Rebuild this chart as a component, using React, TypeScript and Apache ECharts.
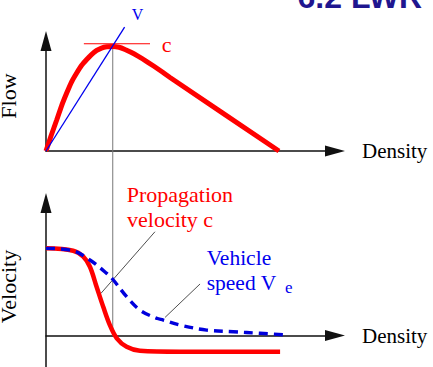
import React, { useEffect, useRef } from "react";
import * as echarts from "echarts";

// Top panel: fundamental diagram (density -> flow)
const flowDensity = [
  0, 1.73, 3.7, 5.36, 7.16, 8.82, 10.62, 12.28, 14.08, 15.74, 17.54, 19.2, 21, 23.18,
  25.26, 27.34, 29.41, 31.83, 34.6, 37.37, 40.14, 42.91, 80.6,
];
const flowValues = [
  0, 13.6, 28.2, 40.9, 52.7, 62.7, 70.9, 77.7, 83.2, 87.7, 91.4, 93.6, 94.7, 95,
  94.3, 92.3, 89.7, 86.2, 81.8, 77, 72, 66.8, 0,
];
// tangent at capacity (c) and secant (V)
const tangentC = [[13.1, 97.5], [36, 97.5]];
const secantV = [[0, 0], [27.2, 112.7]];

// Bottom panel: propagation velocity c and vehicle speed Ve
const cDensity = [0, 9.4, 12.9, 15.2, 17.5, 19.8, 22.1, 24.5, 27.9, 32.5, 46.4, 81];
const cValues = [65.8, 64, 59.5, 51.9, 36.8, 21.7, 7.9, -2.1, -8.5, -11.5, -12.2, -12.2];
const veDensity = [0, 9.4, 15.2, 21, 23.3, 27.9, 32.5, 38.3, 40.6, 46.4, 55.6, 64.8, 74, 83.3];
const veValues = [65.8, 64, 57, 46.9, 41.9, 29.3, 19.2, 13, 11.7, 7.9, 4.1, 2.9, 1.7, 0.4];
const criticalLine = [[23.1, 0], [23.1, 217]];
const leaderC = [[19, 31.8], [37.7, 78.3]];
const leaderVe = [[41.2, 13.7], [53.3, 38.9]];

const SERIF = "'Liberation Serif', 'Times New Roman', serif";

function pairs(xs: number[], ys: number[]) {
  return xs.map((x, i) => [x, ys[i]]);
}

export default function App() {
  const ref = useRef<HTMLDivElement>(null);
  useEffect(() => {
    const chart = echarts.init(ref.current!, null, { renderer: "svg" });
    const axisLine = {
      show: true,
      onZero: true,
      symbol: ["none", "triangle"],
      symbolSize: [11, 20],
      lineStyle: { color: "#111", width: 1.5 },
    };
    const hidden = {
      axisTick: { show: false },
      axisLabel: { show: false },
      splitLine: { show: false },
    };
    const nameStyle = { fontFamily: SERIF, fontSize: 21, color: "#000" };
    chart.setOption({
      animation: false,
      backgroundColor: "#fff",
      grid: [
        { left: 46, top: 41, width: 289, height: 110, outerBoundsMode: "none" },
        { left: 46, top: 203, width: 289, height: 167, outerBoundsMode: "none" },
      ],
      xAxis: [
        {
          type: "value", gridIndex: 0, min: 0, max: 100, ...hidden, axisLine,
          name: "Density", nameLocation: "end", nameGap: 27,
          nameTextStyle: { ...nameStyle, padding: [4, 0, 0, 0] },
        },
        {
          type: "value", gridIndex: 1, min: 0, max: 100, ...hidden, axisLine,
          name: "Density", nameLocation: "end", nameGap: 27,
          nameTextStyle: { ...nameStyle, padding: [5, 0, 0, 0] },
        },
      ],
      yAxis: [
        {
          type: "value", gridIndex: 0, min: 0, max: 100, ...hidden, axisLine,
          name: "Flow", nameLocation: "middle", nameRotate: 90, nameGap: 27,
          nameTextStyle: { ...nameStyle, fontSize: 22 },
        },
        {
          type: "value", gridIndex: 1, min: -26, max: 100, ...hidden, axisLine,
          name: "Velocity", nameLocation: "middle", nameRotate: 90, nameGap: 27,
          nameTextStyle: { ...nameStyle, fontSize: 22 },
        },
      ],
      series: [
        {
          type: "line", xAxisIndex: 1, yAxisIndex: 1, data: criticalLine,
          symbol: "none", clip: false, lineStyle: { color: "#777", width: 1 }, z: 1,
        },
        {
          type: "line", xAxisIndex: 0, yAxisIndex: 0, data: pairs(flowDensity, flowValues),
          symbol: "none", smooth: 0.2, clip: false,
          lineStyle: { color: "#ff0000", width: 5 }, z: 3,
        },
        {
          type: "line", xAxisIndex: 0, yAxisIndex: 0, data: tangentC,
          symbol: "none", clip: false, lineStyle: { color: "#ff0000", width: 1.2 }, z: 4,
        },
        {
          type: "line", xAxisIndex: 0, yAxisIndex: 0, data: secantV,
          symbol: "none", clip: false, lineStyle: { color: "#0000ee", width: 1.3 }, z: 4,
        },
        {
          type: "line", xAxisIndex: 1, yAxisIndex: 1, data: pairs(cDensity, cValues),
          symbol: "none", smooth: 0.35, clip: false,
          lineStyle: { color: "#ff0000", width: 4.5 }, z: 3,
        },
        {
          type: "line", xAxisIndex: 1, yAxisIndex: 1, data: pairs(veDensity, veValues),
          symbol: "none", smooth: 0.35, clip: false,
          lineStyle: { color: "#0000dd", width: 3.4, type: [9, 6] }, z: 4,
        },
        {
          type: "line", xAxisIndex: 1, yAxisIndex: 1, data: leaderC,
          symbol: "none", clip: false, lineStyle: { color: "#222", width: 0.8 }, z: 2,
        },
        {
          type: "line", xAxisIndex: 1, yAxisIndex: 1, data: leaderVe,
          symbol: "none", clip: false, lineStyle: { color: "#222", width: 0.8 }, z: 2,
        },
      ],
      graphic: [
        {
          type: "text", x: 422, y: -3,
          style: {
            text: "6.2 LWR", fill: "#1f168f", align: "right", verticalAlign: "middle",
            font: "bold 32px 'Liberation Sans', Arial, sans-serif",
          },
        },
        {
          type: "text", x: 131.7, y: 14.7,
          style: { text: "V", fill: "#0000ee", verticalAlign: "middle", font: `16px ${SERIF}` },
        },
        {
          type: "text", x: 161.7, y: 44.4,
          style: { text: "c", fill: "#ff0000", verticalAlign: "middle", font: `22px ${SERIF}` },
        },
        {
          type: "text", x: 126.7, y: 194.7,
          style: { text: "Propagation", fill: "#ff0000", verticalAlign: "middle", font: `22px ${SERIF}` },
        },
        {
          type: "text", x: 127, y: 219.4,
          style: { text: "velocity c", fill: "#ff0000", verticalAlign: "middle", font: `22px ${SERIF}` },
        },
        {
          type: "text", x: 206.7, y: 258,
          style: { text: "Vehicle", fill: "#0000ee", verticalAlign: "middle", font: `21.5px ${SERIF}` },
        },
        {
          type: "text", x: 206.7, y: 282.7,
          style: { text: "speed V", fill: "#0000ee", verticalAlign: "middle", font: `21.5px ${SERIF}` },
        },
        {
          type: "text", x: 285, y: 287.7,
          style: { text: "e", fill: "#0000ee", verticalAlign: "middle", font: `17px ${SERIF}` },
        },
      ],
    });
    return () => chart.dispose();
  }, []);
  return (
    <div
      ref={ref}
      style={{ position: "absolute", left: 0, top: 0, width: 433, height: 367, background: "#fff" }}
    />
  );
}
